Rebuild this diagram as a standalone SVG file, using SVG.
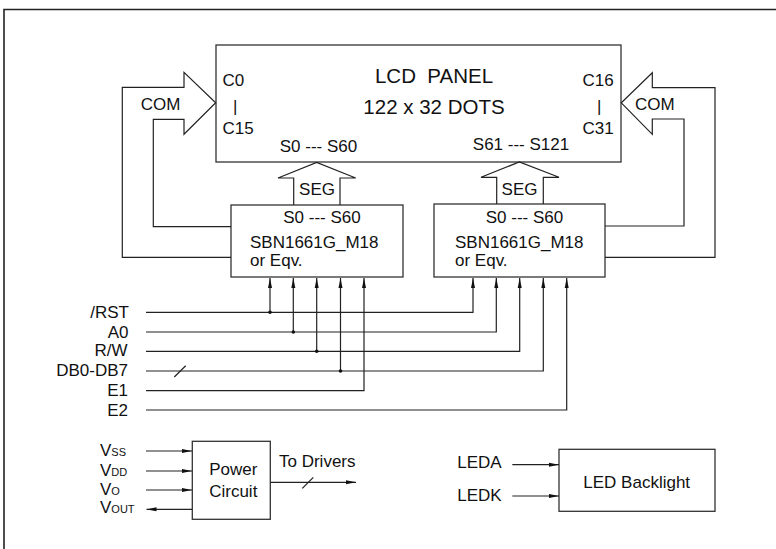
<svg xmlns="http://www.w3.org/2000/svg" width="776" height="549" viewBox="0 0 776 549">
<style>
text{font-family:"Liberation Sans",Arial,sans-serif;font-size:17px;fill:#111}
.box{fill:#fff;stroke:#333;stroke-width:1.3}
.ln{fill:none;stroke:#222;stroke-width:1.2}
.big{font-size:20.5px}
.sub{font-size:11px}
.m{text-anchor:middle}
.e{text-anchor:end}
</style>
<defs>
<marker id="ah" markerUnits="userSpaceOnUse" markerWidth="10" markerHeight="5" refX="10" refY="2.5" orient="auto">
<path d="M0,0.5 L10,2.5 L0,4.5 z" fill="#111"/>
</marker>
</defs>
<path id="frame" class="ln" d="M4,549 V9.5 H776" style="stroke-width:1.6"/>

<g id="lcd-panel">
<rect class="box" x="216" y="45" width="405" height="117"/>
<text class="big m" x="434" y="83.3" xml:space="preserve">LCD  PANEL</text>
<text class="big m" x="434" y="114">122 x 32 DOTS</text>
<text x="222.5" y="85.7">C0</text>
<text x="233" y="111.5">|</text>
<text x="222.5" y="134">C15</text>
<text x="582.5" y="85.7">C16</text>
<text x="597" y="111.5">|</text>
<text x="582.5" y="134">C31</text>
<text class="m" x="318.5" y="151.5">S0 --- S60</text>
<text class="m" x="521" y="150">S61 --- S121</text>
</g>

<g id="driver-left">
<rect class="box" x="231" y="205" width="172" height="72"/>
<text class="m" x="322" y="223">S0 --- S60</text>
<text x="250" y="248.3">SBN1661G_M18</text>
<text x="250" y="266">or Eqv.</text>
</g>

<g id="driver-right">
<rect class="box" x="434" y="204" width="171" height="73"/>
<text class="m" x="524.5" y="222.7">S0 --- S60</text>
<text x="455" y="248.3">SBN1661G_M18</text>
<text x="455" y="266">or Eqv.</text>
</g>

<g id="power-circuit">
<rect class="box" x="192.3" y="441.3" width="78" height="78"/>
<text class="m" x="233.3" y="475">Power</text>
<text class="m" x="233.3" y="497.3">Circuit</text>
</g>

<g id="led-backlight">
<rect class="box" x="559" y="449.3" width="156" height="62"/>
<text class="m" x="636.7" y="487.7">LED Backlight</text>
</g>

<g id="labels">
<text class="e" x="129" y="317.7">/RST</text>
<text class="e" x="128.5" y="337.7">A0</text>
<text class="e" x="127.5" y="356">R/W</text>
<text class="e" x="128" y="376">DB0-DB7</text>
<text class="e" x="128" y="395.7">E1</text>
<text class="e" x="128" y="415.7">E2</text>
<text x="100" y="455.7">V<tspan class="sub">SS</tspan></text>
<text x="100" y="475.7">V<tspan class="sub">DD</tspan></text>
<text x="100" y="494.7">V<tspan class="sub">O</tspan></text>
<text x="100" y="513.3">V<tspan class="sub">OUT</tspan></text>
<text x="279" y="466.7">To Drivers</text>
<text x="457.3" y="468.3">LEDA</text>
<text x="457.3" y="501">LEDK</text>
<text x="140.7" y="109.5">COM</text>
<text x="635" y="109.5">COM</text>
<text class="m" x="317" y="195">SEG</text>
<text class="m" x="519.5" y="194.5">SEG</text>
</g>

<g id="connectors">
<!-- COM arrows -->
<path class="ln" d="M231,257.3 H122.3 V87.3 H184 V72.3 L215.7,102.8 L184,134.3 V119.3 H153.3 V226.7 H231"/>
<path class="ln" d="M605,257.3 H715 V87.7 H652.3 V72.7 L621.3,102.8 L652.3,134.3 V119 H684 V226 H605"/>
<!-- SEG arrows -->
<path class="ln" d="M293.7,205 V178 H278 L316.7,162.5 L355.7,178 H340 V205"/>
<path class="ln" d="M496.7,204 V177.3 H481 L519.3,162 L559,177.3 H543.3 V204"/>
<!-- bus lines -->
<g class="ln" marker-end="url(#ah)">
<path d="M146,312.3 H473 V278"/>
<path d="M146,332 H496.3 V278"/>
<path d="M146,351.3 H519.7 V278"/>
<path d="M146,371 H543.3 V278"/>
<path d="M146,390.7 H364 V278"/>
<path d="M146,410 H566.7 V278"/>
<path d="M270,312.3 V278"/>
<path d="M293.3,332 V278"/>
<path d="M316.7,351.3 V278"/>
<path d="M340.5,371 V278"/>
<path d="M146,451 H192"/>
<path d="M146,471 H192"/>
<path d="M146,490 H192"/>
<path d="M192.3,509.3 H146.5"/>
<path d="M270.3,482.3 H356"/>
<path d="M512.3,464.7 H559"/>
<path d="M512.3,496 H559"/>
</g>
<g fill="#111">
<circle cx="270" cy="312.3" r="1.8"/>
<circle cx="293.3" cy="332" r="1.8"/>
<circle cx="316.7" cy="351.3" r="1.8"/>
<circle cx="340.5" cy="371" r="1.8"/>
</g>
<path class="ln" d="M174.3,377 L185.7,365.7"/>
<path class="ln" d="M302.3,488.3 L313.3,477.3"/>
</g>
</svg>
